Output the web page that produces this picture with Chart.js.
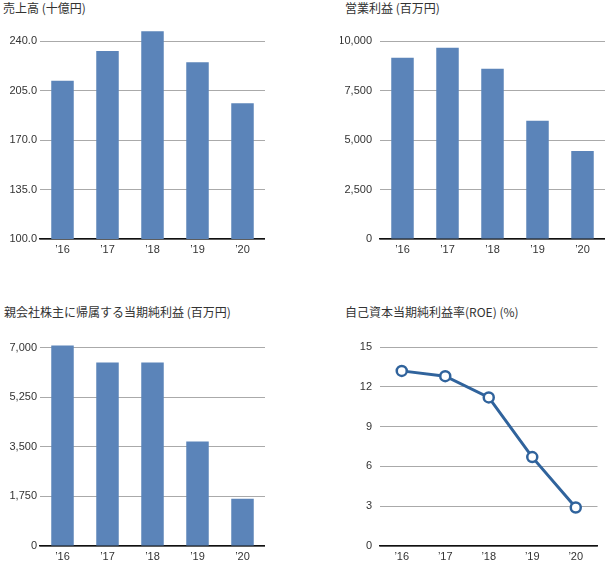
<!DOCTYPE html>
<html>
<head>
<meta charset="utf-8">
<script src="https://cdn.jsdelivr.net/npm/chart.js@4.4.1/dist/chart.umd.min.js"></script>
<style>
  body { margin: 0; background: #fff; }
  #wrap { position: relative; width: 607px; height: 562px; overflow: hidden; }
  .ttl { position: absolute; font-family: "Noto Sans CJK JP", sans-serif; font-size: 12px; color: #333; white-space: nowrap; line-height: 16px; }
  canvas { position: absolute; }
</style>
</head>
<body>
<div id="wrap">
  <div class="ttl" style="left:3px;top:0px">売上高 (十億円)</div>
  <div class="ttl" style="left:345px;top:0px">営業利益 (百万円)</div>
  <div class="ttl" style="left:4px;top:304px">親会社株主に帰属する当期純利益 (百万円)</div>
  <div class="ttl" style="left:345px;top:304px">自己資本当期純利益率(ROE) (%)</div>
  <canvas id="c1" style="left:0px;top:19px;width:265px;height:240px"></canvas>
  <canvas id="c2" style="left:340px;top:33px;width:265px;height:226px"></canvas>
  <canvas id="c3" style="left:0px;top:334px;width:265px;height:232px"></canvas>
  <canvas id="c4" style="left:340px;top:339px;width:265px;height:227px"></canvas>
</div>
<script>
// 年度ラベル
const years = ['’16', '’17', '’18', '’19', '’20'];
// 売上高 (十億円)
const sales = [212, 233, 247, 225, 196];
const salesTicks = [100, 135, 170, 205, 240];
// 営業利益 (百万円)
const operatingIncome = [9150, 9660, 8600, 5970, 4450];
const operatingTicks = [0, 2500, 5000, 7500, 10000];
// 親会社株主に帰属する当期純利益 (百万円)
const netIncome = [7080, 6480, 6480, 3690, 1670];
const netTicks = [0, 1750, 3500, 5250, 7000];
// ROE (%)
const roe = [13.2, 12.8, 11.2, 6.7, 2.9];
const roeTicks = [0, 3, 6, 9, 12, 15];

const barColor = '#5b84b9';
const lineColor = '#30639c';
const tickFont = { family: '"Liberation Sans", "Noto Sans CJK JP", sans-serif', size: 11 };

// 共通のスケール設定を作る
function scales(yMin, yMax, tickValues, fmt, yPad) {
  return {
    x: {
      offset: true,
      grid: { display: false, drawTicks: false },
      border: { color: '#111', width: 1.5 },
      ticks: { color: '#333', font: tickFont, padding: 4, maxRotation: 0 },
      afterFit: s => { s.height = 20; }
    },
    y: {
      min: yMin,
      max: yMax,
      grid: { color: '#aaa', lineWidth: 1, drawTicks: false },
      border: { display: false },
      ticks: { color: '#333', font: tickFont, padding: yPad, callback: fmt },
      afterBuildTicks: s => { s.ticks = tickValues.map(v => ({ value: v })); },
      afterFit: s => { s.width = 40; s.paddingTop = 0; s.paddingBottom = 0; }
    }
  };
}

function commonOptions(sc) {
  return {
    responsive: false,
    animation: false,
    layout: { padding: { top: 8, right: 0, left: 0, bottom: 0 } },
    plugins: { legend: { display: false }, tooltip: { enabled: false } },
    scales: sc
  };
}

function makeCanvas(id) {
  const el = document.getElementById(id);
  el.width = parseInt(el.style.width);
  el.height = parseInt(el.style.height);
  return el.getContext('2d');
}

function barChart(id, values, sc) {
  return new Chart(makeCanvas(id), {
    type: 'bar',
    data: {
      labels: years,
      datasets: [{
        data: values,
        backgroundColor: barColor,
        borderWidth: 0,
        barPercentage: 0.5,
        categoryPercentage: 1.0
      }]
    },
    options: commonOptions(sc)
  });
}

const withComma = v => v.toLocaleString('en-US');

barChart('c1', sales, scales(100, 250, salesTicks, v => v.toFixed(1), 3));
barChart('c2', operatingIncome, scales(0, 10000, operatingTicks, withComma, 8));
barChart('c3', netIncome, scales(0, 7200, netTicks, withComma, 3));

new Chart(makeCanvas('c4'), {
  type: 'line',
  data: {
    labels: years,
    datasets: [{
      data: roe,
      borderColor: lineColor,
      borderWidth: 3,
      pointRadius: 5,
      pointBorderWidth: 2.5,
      pointBackgroundColor: '#fff',
      pointBorderColor: lineColor,
      tension: 0,
      clip: false
    }]
  },
  options: commonOptions(scales(0, 15, roeTicks, v => String(v), 8))
});
</script>
</body>
</html>
